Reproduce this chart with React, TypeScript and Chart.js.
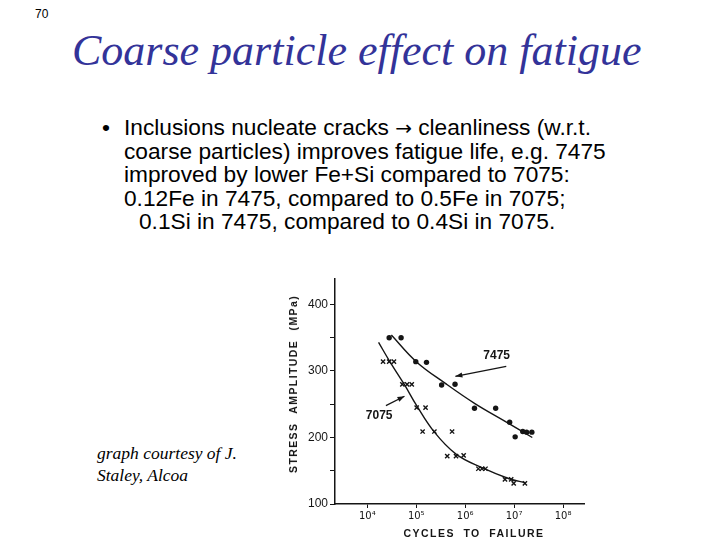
import React, { useEffect, useRef } from "react";
import { Chart, registerables } from "chart.js";

Chart.register(...registerables);

// ---- data ----
// 7475 measurements (cycles to failure, stress amplitude MPa)
const cycles7475 = [28000, 49000, 98000, 162000, 330000, 620000, 1550000, 4200000, 8100000, 10500000, 15000000, 18000000, 23000000];
const stress7475 = [350, 350, 314, 313, 279, 280, 244, 244, 223, 201, 209, 208, 208];

// 7075 measurements
const cycles7075 = [21000, 28000, 35000, 52000, 65000, 81000, 102000, 155000, 135000, 235000, 540000, 430000, 650000, 930000, 1860000, 2200000, 2600000, 6500000, 8700000, 9800000, 16600000];
const stress7075 = [314, 314, 314, 280, 280, 280, 245, 245, 209, 209, 209, 172, 172, 173, 153, 153, 153, 137, 137, 131, 131];

// fitted curves drawn in the figure
const curveCycles7475 = [31000, 100000, 400000, 1580000, 6300000, 23500000];
const curveStress7475 = [354, 314, 281, 251, 225, 200];
const curveCycles7075 = [17000, 29500, 59000, 100000, 235000, 650000, 2150000, 7900000, 17000000];
const curveStress7075 = [343, 313, 278, 249, 208, 175, 155, 138, 132];

// axes
const xTickValues = [1e4, 1e5, 1e6, 1e7, 1e8];
const yTickValues = [100, 150, 200, 250, 300, 350, 400];
const xMin = Math.pow(10, 3.34);
const xMax = Math.pow(10, 8.44);
const yMin = 100;
const yMax = 438;

// curve labels with arrows (data coordinates)
const curveLabels = [
  { text: "7475", x: 4400000, y: 323, tailX: 6900000, tailY: 307, headX: 630000, headY: 292 },
  { text: "7075", x: 17500, y: 233, tailX: 24000, tailY: 248, headX: 57500, headY: 262 },
];

const INK = "#151515";
const SUP: Record<string, string> = { "0": "⁰", "1": "¹", "2": "²", "3": "³", "4": "⁴", "5": "⁵", "6": "⁶", "7": "⁷", "8": "⁸", "9": "⁹" };

const zip = (xs: number[], ys: number[]) => xs.map((x, i) => ({ x, y: ys[i] }));

const arrowPlugin = {
  id: "curveLabels",
  afterDatasetsDraw(chart: any) {
    const { ctx } = chart;
    const xs = chart.scales.x;
    const ys = chart.scales.y;
    ctx.save();
    ctx.strokeStyle = INK;
    ctx.fillStyle = INK;
    ctx.lineWidth = 1.3;
    curveLabels.forEach((l) => {
      const tx = xs.getPixelForValue(l.tailX);
      const ty = ys.getPixelForValue(l.tailY);
      const hx = xs.getPixelForValue(l.headX);
      const hy = ys.getPixelForValue(l.headY);
      ctx.beginPath();
      ctx.moveTo(tx, ty);
      ctx.lineTo(hx, hy);
      ctx.stroke();
      const ang = Math.atan2(hy - ty, hx - tx);
      const len = 7;
      const w = 2.6;
      ctx.beginPath();
      ctx.moveTo(hx, hy);
      ctx.lineTo(hx - len * Math.cos(ang) + w * Math.sin(ang), hy - len * Math.sin(ang) - w * Math.cos(ang));
      ctx.lineTo(hx - len * Math.cos(ang) - w * Math.sin(ang), hy - len * Math.sin(ang) + w * Math.cos(ang));
      ctx.closePath();
      ctx.fill();
      ctx.font = "bold 12px 'Liberation Sans', Arial, sans-serif";
      ctx.textAlign = "center";
      ctx.textBaseline = "middle";
      ctx.fillText(l.text, xs.getPixelForValue(l.x), ys.getPixelForValue(l.y));
    });
    ctx.restore();
  },
};

function FatigueChart() {
  const ref = useRef<HTMLCanvasElement | null>(null);
  useEffect(() => {
    if (!ref.current) return;
    const chart = new Chart(ref.current, {
      type: "scatter",
      data: {
        datasets: [
          {
            type: "line",
            label: "7475 fit",
            data: zip(curveCycles7475, curveStress7475),
            borderColor: INK,
            borderWidth: 1.4,
            pointRadius: 0,
            tension: 0.4,
            fill: false,
          } as any,
          {
            type: "line",
            label: "7075 fit",
            data: zip(curveCycles7075, curveStress7075),
            borderColor: INK,
            borderWidth: 1.4,
            pointRadius: 0,
            tension: 0.4,
            fill: false,
          } as any,
          {
            label: "7475",
            data: zip(cycles7475, stress7475),
            pointStyle: "circle",
            pointRadius: 2.7,
            backgroundColor: INK,
            borderColor: INK,
            borderWidth: 0,
          },
          {
            label: "7075",
            data: zip(cycles7075, stress7075),
            pointStyle: "crossRot",
            pointRadius: 3,
            borderColor: INK,
            borderWidth: 1.4,
          },
        ],
      },
      options: {
        animation: false,
        responsive: false,
        devicePixelRatio: 1,
        layout: { padding: { top: 5, right: 0, left: 0, bottom: 0 } },
        plugins: { legend: { display: false }, tooltip: { enabled: false } },
        scales: {
          x: {
            type: "logarithmic",
            min: xMin,
            max: xMax,
            afterBuildTicks: (scale: any) => {
              scale.ticks = xTickValues.map((v) => ({ value: v }));
            },
            afterFit: (scale: any) => {
              scale.height = 36;
            },
            ticks: {
              autoSkip: false,
              maxRotation: 0,
              padding: 2,
              color: INK,
              font: { size: 10, family: "'DejaVu Sans', 'Liberation Sans', Arial, sans-serif" },
              callback: (v: any) => {
                const e = String(Math.round(Math.log10(Number(v))));
                return "10" + e.split("").map((c) => SUP[c]).join("");
              },
            },
            grid: { display: true, drawOnChartArea: false, drawTicks: true, tickLength: 4, color: INK, lineWidth: 1 },
            border: { display: true, color: INK, width: 1.5 },
          },
          y: {
            type: "linear",
            min: yMin,
            max: yMax,
            afterBuildTicks: (scale: any) => {
              scale.ticks = yTickValues.map((v) => ({ value: v }));
            },
            afterFit: (scale: any) => {
              scale.width = 55;
            },
            ticks: {
              autoSkip: false,
              padding: 2,
              color: INK,
              font: { size: 12, family: "'Liberation Sans', Arial, sans-serif" },
              callback: (v: any) => (Number(v) % 100 === 0 ? String(v) : ""),
            },
            grid: { display: true, drawOnChartArea: false, drawTicks: true, tickLength: 5, color: INK, lineWidth: 1 },
            border: { display: true, color: INK, width: 1.5 },
          },
        },
      },
      plugins: [arrowPlugin],
    } as any);
    return () => chart.destroy();
  }, []);
  return (
    <canvas
      ref={ref}
      width={310}
      height={270}
      style={{ position: "absolute", left: 280, top: 270, width: 310, height: 270 }}
    />
  );
}

export default function App() {
  const sans = "'Liberation Sans', Arial, sans-serif";
  const serif = "'Liberation Serif', 'Times New Roman', serif";
  const arrow = <span style={{ fontFamily: "'DejaVu Sans', sans-serif", fontSize: 20 }}>→</span>;
  const bodyLines: React.ReactNode[] = [
    <>Inclusions nucleate cracks {arrow} cleanliness (w.r.t.</>,
    "coarse particles) improves fatigue life, e.g. 7475",
    "improved by lower Fe+Si compared to 7075:",
    "0.12Fe in 7475, compared to 0.5Fe in 7075;",
    "0.1Si in 7475, compared to 0.4Si in 7075.",
  ];
  return (
    <div style={{ position: "fixed", left: 0, top: 0, width: 720, height: 540, background: "#fff", overflow: "hidden" }}>
      <div style={{ position: "absolute", left: 35, top: 7, fontFamily: sans, fontSize: 12, color: "#000" }}>70</div>
      <div
        style={{
          position: "absolute",
          left: 72,
          top: 29,
          fontFamily: serif,
          fontStyle: "italic",
          fontSize: 44,
          lineHeight: "44px",
          color: "#333399",
          whiteSpace: "nowrap",
        }}
      >
        Coarse particle effect on fatigue
      </div>
      <div style={{ position: "absolute", left: 102, top: 116, fontFamily: sans, fontSize: 22.7, lineHeight: "23.5px" }}>•</div>
      <div style={{ position: "absolute", left: 124, top: 116, fontFamily: sans, fontSize: 22.7, lineHeight: "23.5px", whiteSpace: "nowrap", color: "#000" }}>
        {bodyLines.map((t, i) => (
          <div key={i} style={{ paddingLeft: i === 4 ? 15 : 0, height: 23.5 }}>{t}</div>
        ))}
      </div>
      <div
        style={{
          position: "absolute",
          left: 97,
          top: 443,
          fontFamily: serif,
          fontStyle: "italic",
          fontSize: 17.5,
          lineHeight: "21.5px",
          whiteSpace: "nowrap",
          color: "#000",
        }}
      >
        <div>graph courtesy of J.</div>
        <div>Staley, Alcoa</div>
      </div>
      <FatigueChart />
      <div
        style={{
          position: "absolute",
          left: 293,
          top: 384,
          transform: "translate(-50%, -50%) rotate(-90deg)",
          fontFamily: sans,
          fontWeight: "bold",
          fontSize: 10.5,
          letterSpacing: 1.4,
          wordSpacing: 5,
          whiteSpace: "nowrap",
          color: INK,
        }}
      >
        STRESS AMPLITUDE (MPa)
      </div>
      <div
        style={{
          position: "absolute",
          left: 474,
          top: 533,
          transform: "translate(-50%, -50%)",
          fontFamily: sans,
          fontWeight: "bold",
          fontSize: 10.5,
          letterSpacing: 1.5,
          wordSpacing: 4,
          whiteSpace: "nowrap",
          color: INK,
        }}
      >
        CYCLES TO FAILURE
      </div>
    </div>
  );
}
